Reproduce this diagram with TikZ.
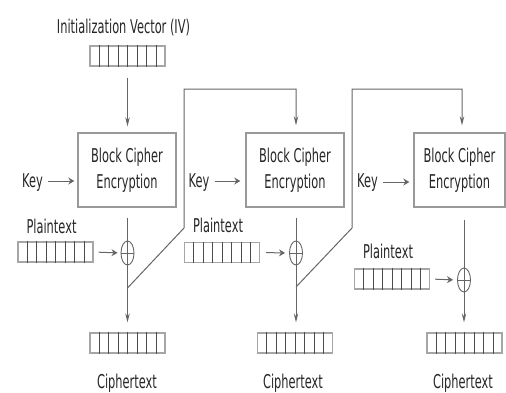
\documentclass[tikz,border=0pt]{standalone}
\usepackage{graphicx}
\usepackage{fontspec}
\setmainfont{DejaVu Sans}
\usetikzlibrary{arrows.meta,shapes.geometric,calc}

% condensed lettering
\newcommand\narrowtxt[1]{\scalebox{0.6}[1]{#1}}

% shift register drawn as a row of 8 cells
\newcommand\register[2]{%
  \node[reg] (#1) at #2 {};
  \foreach \k in {1,...,7}
    \draw[cell] ($(#1.south west)!\k/8!(#1.south east)$) -- ($(#1.north west)!\k/8!(#1.north east)$);
}

% exclusive-or operator
\newcommand\xorgate[2]{%
  \node[xorop] (#1) at #2 {};
  \draw[conn] (#1.north) -- (#1.south) (#1.west) -- (#1.east);
}

\tikzset{
  lbl/.style={inner sep=0pt, text=black!85, font=\fontsize{19}{26}\selectfont},
  cipherbox/.style={draw=black!40, line width=1.4pt, minimum width=98pt, minimum height=74pt,
    inner sep=0pt, align=center, text=black!85, font=\fontsize{19}{26}\selectfont},
  reg/.style={draw=black!35, line width=1.3pt, minimum width=75pt, minimum height=20pt, inner sep=0pt},
  cell/.style={draw=black!70, line width=0.7pt},
  conn/.style={draw=black!60, line width=1pt},
  varrow/.style={conn, -{Stealth[length=9pt,width=4.5pt]}},
  harrow/.style={conn, -{Stealth[length=6pt,width=7pt]}},
  xorop/.style={ellipse, draw=black!60, line width=0.9pt, minimum width=13pt, minimum height=24pt, inner sep=0pt},
}

\begin{document}
\begin{tikzpicture}[x=1pt, y=-1pt]
  \useasboundingbox (0,0) rectangle (506,392);

  % initialization vector
  \node[lbl, anchor=base] (ivlbl) at (123.5,33) {\narrowtxt{Initialization Vector (IV)}};
  \register{iv}{(127.5,56)}

  % cipher blocks
  \node[cipherbox] (b1) at (127,170) {\narrowtxt{Block Cipher}\\\narrowtxt{Encryption}};
  \node[cipherbox] (b2) at (295,170) {\narrowtxt{Block Cipher}\\\narrowtxt{Encryption}};
  \node[cipherbox, minimum width=91pt] (b3) at (459.5,170) {\narrowtxt{Block Cipher}\\\narrowtxt{Encryption}};

  % keys
  \node[lbl, anchor=base] (k1) at (32.5,187) {\narrowtxt{Key}};
  \node[lbl, anchor=base] (k2) at (199,187) {\narrowtxt{Key}};
  \node[lbl, anchor=base] (k3) at (367.5,187) {\narrowtxt{Key}};
  \draw[harrow, shorten <=5pt, shorten >=3pt] (k1.east |- 0,181) -- (b1.west |- 0,181);
  \draw[harrow, shorten <=5pt, shorten >=5pt] (k2.east |- 0,181) -- (b2.west |- 0,181);
  \draw[harrow, shorten <=5pt, shorten >=4pt] (k3.east |- 0,182) -- (b3.west |- 0,182);

  % plaintexts
  \node[lbl, anchor=base] (pl1) at (51.5,233) {\narrowtxt{Plaintext}};
  \node[lbl, anchor=base] (pl2) at (218,232) {\narrowtxt{Plaintext}};
  \node[lbl, anchor=base] (pl3) at (388,258) {\narrowtxt{Plaintext}};
  \register{p1}{(55.5,252)}
  \register{p2}{(222,252.5)}
  \register{p3}{(392,279)}

  % xor operators
  \xorgate{x1}{(127.5,253)}
  \xorgate{x2}{(296,253)}
  \xorgate{x3}{(464,280)}

  % ciphertexts
  \register{c1}{(127.5,343)}
  \register{c2}{(295,343)}
  \register{c3}{(464.5,343)}
  \node[lbl, anchor=base] (cl1) at (127,388) {\narrowtxt{Ciphertext}};
  \node[lbl, anchor=base] (cl2) at (293,388) {\narrowtxt{Ciphertext}};
  \node[lbl, anchor=base] (cl3) at (463,388) {\narrowtxt{Ciphertext}};

  % IV into first block
  \draw[varrow, shorten <=11pt, shorten >=6pt] (iv.south -| 127.5,0) -- (b1.north -| 127.5,0);

  % plaintext into xor
  \draw[harrow, shorten <=5pt, shorten >=3pt] (p1.east) -- (x1.west);
  \draw[harrow, shorten <=6pt, shorten >=4pt] (p2.east) -- (x2.west);
  \draw[harrow, shorten <=5pt, shorten >=4pt] (p3.east) -- (x3.west);

  % block output into xor
  \draw[conn, shorten <=10pt] (b1.south -| x1) -- (x1.north);
  \draw[conn, shorten <=10pt] (b2.south -| x2) -- (x2.north);
  \draw[conn, shorten <=12pt] (b3.south -| x3) -- (x3.north);

  % xor into ciphertext
  \draw[varrow, shorten >=10pt] (x1.south) -- (x1.south |- c1.north);
  \draw[varrow, shorten >=10pt] (x2.south) -- (x2.south |- c2.north);
  \draw[varrow, shorten >=10pt] (x3.south) -- (x3.south |- c3.north);

  % ciphertext fed forward to the next block
  \coordinate (f1) at (127.5,288);
  \coordinate (f2) at (296,287);
  \draw[varrow, shorten >=7pt] (f1) -- (184,228) -- (184,89) -| (b2.north -| 296,0);
  \draw[varrow, shorten >=7pt] (f2) -- (352,228) -- (352,89) -| (b3.north -| 462,0);
\end{tikzpicture}
\end{document}
